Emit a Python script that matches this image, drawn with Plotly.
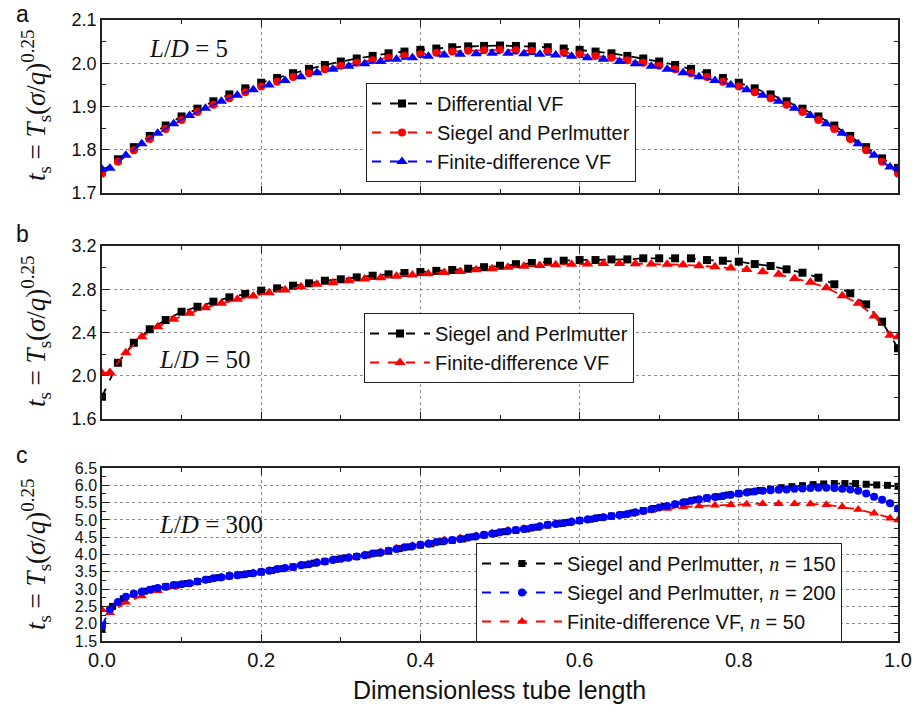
import plotly.graph_objects as go

# ---------------- Panel a (L/D = 5) ----------------
xa_grid = [0.00, 0.02, 0.04, 0.06, 0.08, 0.10, 0.12, 0.14, 0.16, 0.18, 0.20, 0.22, 0.24, 0.26, 0.28,
           0.30, 0.32, 0.34, 0.36, 0.38, 0.40, 0.42, 0.44, 0.46, 0.48, 0.50, 0.52, 0.54, 0.56, 0.58,
           0.60, 0.62, 0.64, 0.66, 0.68, 0.70, 0.72, 0.74, 0.76, 0.78, 0.80, 0.82, 0.84, 0.86, 0.88,
           0.90, 0.92, 0.94, 0.96, 0.98, 1.00]
xfd_grid = [0.00, 0.01, 0.03, 0.05, 0.07, 0.09, 0.11, 0.13, 0.15, 0.17, 0.19, 0.21, 0.23, 0.25, 0.27,
            0.29, 0.31, 0.33, 0.35, 0.37, 0.39, 0.41, 0.43, 0.45, 0.47, 0.49, 0.51, 0.53, 0.55, 0.57,
            0.59, 0.61, 0.63, 0.65, 0.67, 0.69, 0.71, 0.73, 0.75, 0.77, 0.79, 0.81, 0.83, 0.85, 0.87,
            0.89, 0.91, 0.93, 0.95, 0.97, 0.99, 1.00]

a_diff_vf = [1.750, 1.778, 1.806, 1.832, 1.856, 1.877, 1.895, 1.912, 1.928, 1.942, 1.955, 1.966, 1.977,
             1.987, 1.996, 2.004, 2.011, 2.017, 2.023, 2.027, 2.031, 2.034, 2.037, 2.039, 2.040, 2.041,
             2.040, 2.039, 2.037, 2.034, 2.031, 2.027, 2.023, 2.017, 2.011, 2.004, 1.996, 1.987, 1.977,
             1.966, 1.955, 1.942, 1.928, 1.912, 1.895, 1.877, 1.856, 1.832, 1.806, 1.780, 1.758]
a_siegel = [1.745, 1.772, 1.799, 1.825, 1.848, 1.869, 1.887, 1.904, 1.919, 1.933, 1.946, 1.957, 1.968,
            1.977, 1.986, 1.994, 2.001, 2.007, 2.013, 2.017, 2.021, 2.024, 2.027, 2.029, 2.030, 2.031,
            2.030, 2.029, 2.027, 2.024, 2.021, 2.017, 2.013, 2.007, 2.001, 1.994, 1.986, 1.977, 1.968,
            1.957, 1.946, 1.933, 1.919, 1.904, 1.887, 1.869, 1.848, 1.825, 1.799, 1.772, 1.745]
a_fd_vf = [1.755, 1.757, 1.787, 1.814, 1.838, 1.860, 1.879, 1.896, 1.912, 1.926, 1.939, 1.950, 1.960,
           1.969, 1.978, 1.986, 1.993, 1.999, 2.004, 2.009, 2.013, 2.016, 2.019, 2.021, 2.022, 2.023,
           2.023, 2.022, 2.021, 2.019, 2.016, 2.013, 2.009, 2.004, 1.999, 1.993, 1.986, 1.978, 1.969,
           1.960, 1.950, 1.939, 1.926, 1.912, 1.896, 1.879, 1.860, 1.838, 1.814, 1.787, 1.760, 1.757]

# ---------------- Panel b (L/D = 50) ----------------
b_siegel = [1.806, 2.120, 2.305, 2.430, 2.515, 2.592, 2.638, 2.685, 2.725, 2.756, 2.787, 2.808, 2.833,
            2.855, 2.879, 2.892, 2.910, 2.925, 2.938, 2.950, 2.960, 2.970, 2.978, 2.990, 3.004, 3.018,
            3.032, 3.043, 3.055, 3.064, 3.070, 3.070, 3.076, 3.076, 3.086, 3.086, 3.086, 3.086, 3.070,
            3.064, 3.055, 3.033, 3.015, 2.984, 2.953, 2.907, 2.846, 2.762, 2.660, 2.500, 2.254]
b_fd_vf = [2.022, 2.030, 2.213, 2.361, 2.454, 2.522, 2.577, 2.629, 2.670, 2.707, 2.738, 2.768, 2.793,
           2.823, 2.846, 2.861, 2.879, 2.895, 2.907, 2.920, 2.932, 2.944, 2.955, 2.965, 2.980, 2.990,
           3.003, 3.012, 3.020, 3.027, 3.031, 3.033, 3.037, 3.038, 3.036, 3.034, 3.032, 3.026, 3.018,
           3.008, 2.996, 2.982, 2.962, 2.938, 2.900, 2.864, 2.814, 2.740, 2.670, 2.553, 2.375, 2.360]

# ---------------- Panel c (L/D = 300) ----------------
xc150 = [0.0, 0.0133, 0.0267, 0.04, 0.0533, 0.0667, 0.08, 0.0933, 0.1067, 0.12, 0.1333, 0.1467, 0.16,
         0.1733, 0.1867, 0.2, 0.2133, 0.2267, 0.24, 0.2533, 0.2667, 0.28, 0.2933, 0.3067, 0.32, 0.3333,
         0.3467, 0.36, 0.3733, 0.3867, 0.4, 0.4133, 0.4267, 0.44, 0.4533, 0.4667, 0.48, 0.4933, 0.5067,
         0.52, 0.5333, 0.5467, 0.56, 0.5733, 0.5867, 0.6, 0.6133, 0.6267, 0.64, 0.6533, 0.6667, 0.68,
         0.6933, 0.7067, 0.72, 0.7333, 0.7467, 0.76, 0.7733, 0.7867, 0.8, 0.8133, 0.8267, 0.84, 0.8533,
         0.8667, 0.88, 0.8933, 0.9067, 0.92, 0.9333, 0.9467, 0.96, 0.9733, 0.9867, 1.0]
c_siegel150 = [1.85, 2.50, 2.72, 2.86, 2.94, 3.01, 3.07, 3.12, 3.16, 3.22, 3.28, 3.33, 3.38, 3.41, 3.45,
               3.49, 3.54, 3.59, 3.64, 3.70, 3.75, 3.80, 3.86, 3.90, 3.94, 3.99, 4.04, 4.10, 4.17, 4.22,
               4.27, 4.31, 4.37, 4.41, 4.45, 4.51, 4.56, 4.61, 4.66, 4.70, 4.74, 4.79, 4.85, 4.89, 4.93,
               4.98, 5.02, 5.07, 5.11, 5.15, 5.20, 5.27, 5.33, 5.39, 5.45, 5.52, 5.58, 5.63, 5.67, 5.72,
               5.76, 5.81, 5.85, 5.89, 5.93, 5.96, 5.99, 6.02, 6.04, 6.05, 6.05, 6.05, 6.03, 6.01, 6.00,
               5.97]
xc200 = [0.00, 0.01, 0.02, 0.03, 0.04, 0.05, 0.06, 0.07, 0.08, 0.09, 0.10, 0.11, 0.12, 0.13, 0.14, 0.15,
         0.16, 0.17, 0.18, 0.19, 0.20, 0.21, 0.22, 0.23, 0.24, 0.25, 0.26, 0.27, 0.28, 0.29, 0.30, 0.31,
         0.32, 0.33, 0.34, 0.35, 0.36, 0.37, 0.38, 0.39, 0.40, 0.41, 0.42, 0.43, 0.44, 0.45, 0.46, 0.47,
         0.48, 0.49, 0.50, 0.51, 0.52, 0.53, 0.54, 0.55, 0.56, 0.57, 0.58, 0.59, 0.60, 0.61, 0.62, 0.63,
         0.64, 0.65, 0.66, 0.67, 0.68, 0.69, 0.70, 0.71, 0.72, 0.73, 0.74, 0.75, 0.76, 0.77, 0.78, 0.79,
         0.80, 0.81, 0.82, 0.83, 0.84, 0.85, 0.86, 0.87, 0.88, 0.89, 0.90, 0.91, 0.92, 0.93, 0.94, 0.95,
         0.96, 0.97, 0.98, 0.99, 1.00]
c_siegel200 = [1.94, 2.42, 2.63, 2.78, 2.86, 2.92, 2.98, 3.03, 3.07, 3.12, 3.14, 3.17, 3.22, 3.27, 3.31,
               3.34, 3.38, 3.40, 3.43, 3.46, 3.50, 3.53, 3.58, 3.61, 3.64, 3.69, 3.72, 3.77, 3.80, 3.84,
               3.88, 3.91, 3.94, 3.98, 4.03, 4.06, 4.11, 4.16, 4.21, 4.24, 4.28, 4.31, 4.36, 4.39, 4.42,
               4.45, 4.49, 4.53, 4.57, 4.60, 4.64, 4.68, 4.71, 4.74, 4.77, 4.82, 4.86, 4.88, 4.91, 4.95,
               4.98, 5.01, 5.05, 5.08, 5.11, 5.14, 5.17, 5.22, 5.26, 5.31, 5.36, 5.40, 5.45, 5.50, 5.55,
               5.60, 5.63, 5.66, 5.69, 5.73, 5.76, 5.79, 5.82, 5.84, 5.86, 5.87, 5.88, 5.90, 5.91, 5.92,
               5.93, 5.93, 5.92, 5.90, 5.88, 5.84, 5.76, 5.67, 5.58, 5.48, 5.33]
c_fd_vf50 = [2.40, 2.32, 2.62, 2.80, 2.95, 3.06, 3.15, 3.26, 3.34, 3.41, 3.47, 3.54, 3.61, 3.70, 3.78,
             3.85, 3.92, 3.99, 4.07, 4.19, 4.26, 4.33, 4.42, 4.48, 4.54, 4.62, 4.70, 4.75, 4.82, 4.90,
             4.96, 5.02, 5.08, 5.14, 5.20, 5.27, 5.33, 5.37, 5.40, 5.42, 5.44, 5.45, 5.47, 5.47, 5.47,
             5.46, 5.44, 5.38, 5.30, 5.19, 5.05, 5.00]

x_ticks = [0.0, 0.2, 0.4, 0.6, 0.8, 1.0]
x_ticklabels = ["0.0", "0.2", "0.4", "0.6", "0.8", "1.0"]

BLACK, RED, BLUE = "#000000", "#ff0000", "#0000ff"
W, H = 914, 710

def px(x):
    return x / W

def py(y):
    return 1 - y / H

fig = go.Figure()

def add(x, y, color, symbol, size, name, xa, ya, legend, rank):
    fig.add_trace(go.Scatter(
        x=x, y=y, name=name, mode="lines+markers",
        line=dict(color=color, width=1.8, dash="dash"),
        marker=dict(color=color, symbol=symbol, size=size, line=dict(width=0)),
        xaxis=xa, yaxis=ya, legend=legend, legendrank=rank))

add(xa_grid, a_diff_vf, BLACK, "square", 8, "Differential VF", "x", "y", "legend", 1)
add(xa_grid, a_siegel, RED, "circle", 8, "Siegel and Perlmutter", "x", "y", "legend", 2)
add(xfd_grid, a_fd_vf, BLUE, "triangle-up", 10, "Finite-difference VF", "x", "y", "legend", 3)

add(xa_grid, b_siegel, BLACK, "square", 8, "Siegel and Perlmutter", "x2", "y2", "legend2", 1)
add(xfd_grid, b_fd_vf, RED, "triangle-up", 10, "Finite-difference VF", "x2", "y2", "legend2", 2)

nspan = "<span style='font-family:Liberation Serif'><i>n</i></span>"
add(xc150, c_siegel150, BLACK, "square", 7, "Siegel and Perlmutter, " + nspan + " = 150", "x3", "y3", "legend3", 1)
add(xfd_grid, c_fd_vf50, RED, "triangle-up", 9, "Finite-difference VF, " + nspan + " = 50", "x3", "y3", "legend3", 3)
add(xc200, c_siegel200, BLUE, "circle", 8, "Siegel and Perlmutter, " + nspan + " = 200", "x3", "y3", "legend3", 2)

xdom = [px(102), px(898)]
def ydom(top, bot):
    return [py(bot), py(top)]

axis_common = dict(showline=True, linecolor="#222222", linewidth=1.5, mirror="allticks",
                   ticks="inside", ticklen=7, tickwidth=1.3, tickcolor="#222222",
                   showgrid=True, gridcolor="#8c8c8c", griddash="dot", gridwidth=1,
                   zeroline=False, automargin=False, ticklabeloverflow="allow")

def xaxis_cfg(show_labels, anchor):
    d = dict(axis_common)
    d.update(domain=xdom, range=[0, 1], tickmode="array", tickvals=x_ticks, ticktext=x_ticklabels,
             showticklabels=show_labels, anchor=anchor,
             tickfont=dict(family="Arial", size=20, color="#111111"),
             minor=dict(ticks="inside", ticklen=4, dtick=0.1, tickcolor="#222222", showgrid=False))
    return d

def yaxis_cfg(dom, rng, dtick, mdtick, anchor, fsize=18, fmt=".1f"):
    d = dict(axis_common)
    d.update(domain=dom, range=rng, dtick=dtick, tick0=rng[0], anchor=anchor, tickformat=fmt,
             tickfont=dict(family="Arial", size=fsize, color="#111111"),
             minor=dict(ticks="inside", ticklen=4, dtick=mdtick, tickcolor="#222222", showgrid=False))
    return d

leg_common = dict(xanchor="left", yanchor="top", bgcolor="white", bordercolor="#222222",
                  borderwidth=1, font=dict(family="Arial", size=20, color="#111111"), itemwidth=60,
                  tracegroupgap=0)

fig.update_layout(
    width=W, height=H, margin=dict(l=0, r=0, t=0, b=0, autoexpand=False),
    paper_bgcolor="white", plot_bgcolor="white",
    xaxis=xaxis_cfg(False, "y"),
    xaxis2=xaxis_cfg(False, "y2"),
    xaxis3=xaxis_cfg(True, "y3"),
    yaxis=yaxis_cfg(ydom(20, 193), [1.7, 2.1], 0.1, 0.05, "x"),
    yaxis2=yaxis_cfg(ydom(246, 419), [1.6, 3.2], 0.4, 0.2, "x2"),
    yaxis3=yaxis_cfg(ydom(468, 641), [1.5, 6.5], 0.5, 0.25, "x3", fsize=16),
    legend=dict(leg_common, x=px(366), y=py(83)),
    legend2=dict(leg_common, x=px(364), y=py(313)),
    legend3=dict(leg_common, x=px(476), y=py(543), itemwidth=80),
    showlegend=True,
)

ylab = "<i>t</i><sub>s</sub> = <i>T</i><sub>s</sub>(<i>σ</i>/<i>q</i>)<sup>0.25</sup>"
annos = []
for yc in [106, 332, 555]:
    annos.append(dict(text=ylab, x=px(36), y=py(yc), xref="paper", yref="paper",
                      textangle=-90, showarrow=False, xanchor="center", yanchor="middle",
                      font=dict(family="Liberation Serif", size=27, color="#111111")))
for letter, yc in [("a", 14), ("b", 234), ("c", 455)]:
    annos.append(dict(text=letter, x=px(22), y=py(yc), xref="paper", yref="paper",
                      showarrow=False, xanchor="center", yanchor="middle",
                      font=dict(family="Arial", size=23, color="#111111")))
for txt, xl, yc in [("<i>L</i>/<i>D</i> = 5", 147, 48), ("<i>L</i>/<i>D</i> = 50", 157, 359),
                    ("<i>L</i>/<i>D</i> = 300", 157, 524)]:
    annos.append(dict(text=txt, x=px(xl), y=py(yc), xref="paper", yref="paper",
                      showarrow=False, xanchor="left", yanchor="middle",
                      font=dict(family="Liberation Serif", size=25, color="#111111")))
annos.append(dict(text="Dimensionless tube length", x=px(500), y=py(690), xref="paper", yref="paper",
                  showarrow=False, xanchor="center", yanchor="middle",
                  font=dict(family="Arial", size=25, color="#111111")))
fig.update_layout(annotations=annos)

fig.write_html("out.html")
